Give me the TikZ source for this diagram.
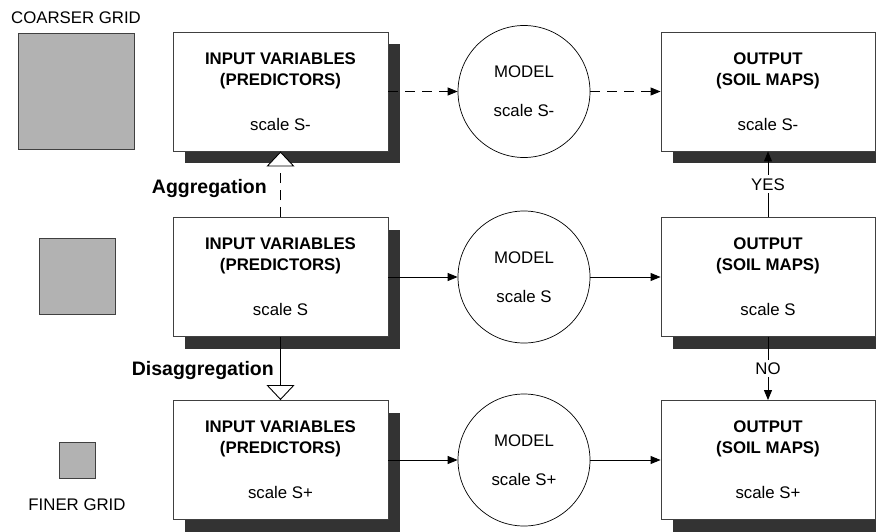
\documentclass[tikz,border=0pt]{standalone}
\usepackage{fontspec}
\setmainfont{Liberation Sans}
\usetikzlibrary{arrows.meta,shadows}
\begin{document}
\begin{tikzpicture}[x=1pt,y=-1pt,
  every node/.style={font=\fontsize{16.8}{21}\selectfont},
  box/.style={draw=black!75, line width=0.9pt, fill=white, minimum width=215pt, minimum height=119pt,
    inner sep=0pt, align=center,
    drop shadow={shadow xshift=12pt, shadow yshift=-12pt, fill=black!80, opacity=1, draw=none}},
  model/.style={circle, draw=black, line width=0.7pt, fill=white, minimum size=132pt, inner sep=0pt, align=center},
  sq/.style={draw=black!75, line width=0.9pt, fill=black!30, inner sep=0pt},
  conn/.style={line width=0.9pt, -{Triangle[length=10pt,width=8pt]}},
  dashconn/.style={conn, dash pattern=on 10pt off 7pt},
  bigtri/.style={line width=0.9pt, -{Triangle[length=15pt,width=28pt,fill=white]}},
  lab/.style={font=\fontsize{19.5}{22}\selectfont\bfseries, inner sep=0pt, anchor=east},
  yn/.style={fill=white, inner sep=3pt}
]
\useasboundingbox (0,0) rectangle (876,531);
\clip (0,0) rectangle (876,531);

% grid squares
\node[sq, minimum size=116pt] (g1) at (76.5,91) {};
\node[sq, minimum size=76pt] (g2) at (77,276.5) {};
\node[sq, minimum size=36pt] (g3) at (77,460.5) {};
\node (coarse) at (76,18) {COARSER GRID};
\node (finer) at (77,505) {FINER GRID};

% input boxes
\node[box] (i1) at (280.5,91.5) {\textbf{INPUT VARIABLES}\\\textbf{(PREDICTORS)}\\[24pt]scale S-};
\node[box] (i2) at (280.5,277) {\textbf{INPUT VARIABLES}\\\textbf{(PREDICTORS)}\\[24pt]scale S};
\node[box] (i3) at (280.5,460) {\textbf{INPUT VARIABLES}\\\textbf{(PREDICTORS)}\\[24pt]scale S+};

% models
\node[model] (c1) at (524,91.5) {MODEL\\[18pt]scale S-};
\node[model] (c2) at (524,277) {MODEL\\[18pt]scale S};
\node[model] (c3) at (524,460) {MODEL\\[18pt]scale S+};

% outputs
\node[box, minimum width=214pt] (o1) at (768,91.5) {\textbf{OUTPUT}\\\textbf{(SOIL MAPS)}\\[24pt]scale S-};
\node[box, minimum width=214pt] (o2) at (768,277) {\textbf{OUTPUT}\\\textbf{(SOIL MAPS)}\\[24pt]scale S};
\node[box, minimum width=214pt] (o3) at (768,460) {\textbf{OUTPUT}\\\textbf{(SOIL MAPS)}\\[24pt]scale S+};

% horizontal connectors
\draw[dashconn] (i1.east) -- (c1.west);
\draw[dashconn] (c1.east) -- (o1.west);
\draw[conn] (i2.east) -- (c2.west);
\draw[conn] (c2.east) -- (o2.west);
\draw[conn] (i3.east) -- (c3.west);
\draw[conn] (c3.east) -- (o3.west);

% aggregation / disaggregation
\draw[bigtri, dash pattern=on 10pt off 7pt] (i2.north) -- (i1.south);
\draw[bigtri] (i2.south) -- (i3.north);
\node[lab] (agg) at (267,188) {Aggregation};
\node[lab] (disagg) at (274,370) {Disaggregation};

% yes / no
\draw[conn] (o2.north) -- node[yn] (yes) {YES} (o1.south);
\draw[conn] (o2.south) -- node[yn] (no) {NO} (o3.north);
\end{tikzpicture}
\end{document}
